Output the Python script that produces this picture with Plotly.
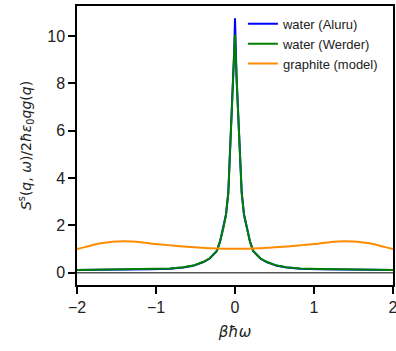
import plotly.graph_objects as go

# x positions (beta hbar omega)
x_water = [-2.0, -1.5, -1.08, -0.825, -0.656, -0.53, -0.40, -0.32, -0.23, -0.19, -0.148, -0.114, -0.085,
           -0.06, -0.04, -0.02, -0.01, 0.0, 0.01, 0.02, 0.04, 0.06, 0.085, 0.114, 0.148, 0.19, 0.23,
           0.32, 0.40, 0.53, 0.656, 0.825, 1.08, 1.5, 2.0]
y_werder = [0.11, 0.13, 0.16, 0.18, 0.23, 0.30, 0.46, 0.61, 0.92, 1.31, 1.87, 2.44, 3.35,
            5.2, 6.7, 8.1, 9.1, 10.05, 9.1, 8.1, 6.7, 5.2, 3.35, 2.44, 1.87, 1.31, 0.92,
            0.61, 0.46, 0.30, 0.23, 0.18, 0.16, 0.13, 0.11]
y_aluru = [0.11, 0.12, 0.15, 0.17, 0.22, 0.29, 0.45, 0.60, 0.92, 1.31, 1.88, 2.46, 3.38,
           5.25, 6.75, 8.2, 9.4, 10.75, 9.4, 8.2, 6.75, 5.25, 3.38, 2.46, 1.88, 1.31, 0.92,
           0.60, 0.45, 0.29, 0.22, 0.17, 0.15, 0.12, 0.11]

x_graphite = [-2.0, -1.9, -1.8, -1.7, -1.6, -1.5, -1.4, -1.3, -1.2, -1.1, -1.0, -0.9, -0.8, -0.7,
              -0.6, -0.5, -0.4, -0.3, -0.2, -0.1, 0.0, 0.1, 0.2, 0.3, 0.4, 0.5, 0.6, 0.7, 0.8,
              0.9, 1.0, 1.1, 1.2, 1.3, 1.4, 1.5, 1.6, 1.7, 1.8, 1.9, 2.0]
y_graphite = [1.00, 1.08, 1.17, 1.24, 1.29, 1.32, 1.33, 1.32, 1.29, 1.25, 1.21, 1.18, 1.15, 1.12,
              1.10, 1.07, 1.05, 1.03, 1.02, 1.01, 1.01, 1.01, 1.02, 1.03, 1.05, 1.07, 1.10, 1.12, 1.15,
              1.18, 1.21, 1.25, 1.29, 1.32, 1.33, 1.32, 1.29, 1.24, 1.17, 1.08, 1.00]

x_ticks = [-2, -1, 0, 1, 2]
y_ticks = [0, 2, 4, 6, 8, 10]

fig = go.Figure()
fig.add_hline(y=0, line=dict(color="#555555", width=1.5), layer="below")
fig.add_trace(go.Scatter(x=x_water, y=y_aluru, mode="lines", name="water (Aluru)",
                         line=dict(color="#0000ff", width=2)))
fig.add_trace(go.Scatter(x=x_water, y=y_werder, mode="lines", name="water (Werder)",
                         line=dict(color="#008000", width=2)))
fig.add_trace(go.Scatter(x=x_graphite, y=y_graphite, mode="lines", name="graphite (model)",
                         line=dict(color="#ff8c00", width=2, shape="spline")))

axis_common = dict(showline=True, linecolor="black", linewidth=1.5, mirror=True,
                   ticks="outside", ticklen=7, tickwidth=1.5, tickcolor="black",
                   showgrid=False, zeroline=False, automargin=False,
                   ticklabeloverflow="allow",
                   tickfont=dict(family="Liberation Sans, Arial", size=16, color="#222"))

fig.update_xaxes(range=[-2, 2], tickvals=x_ticks, **axis_common,
                 title=dict(text="<i>βħω</i>", standoff=12,
                            font=dict(family="DejaVu Sans", size=15, color="#222")))
fig.update_yaxes(range=[-0.52, 11.27], tickvals=y_ticks, **axis_common,
                 title=dict(text="<i>S</i><sup>s</sup>(<i>q</i>, <i>ω</i>)/2<i>ħε</i><sub>0</sub><i>qg</i>(<i>q</i>)",
                            standoff=12,
                            font=dict(family="DejaVu Sans", size=14, color="#222")))

fig.update_layout(
    width=396, height=351,
    margin=dict(l=77, r=3, t=6, b=66),
    plot_bgcolor="white", paper_bgcolor="white",
    showlegend=True,
    legend=dict(x=0.525, y=0.99, xanchor="left", yanchor="top",
                bgcolor="rgba(0,0,0,0)", borderwidth=0,
                font=dict(family="Liberation Sans, Arial", size=13, color="#222"),
                tracegroupgap=0),
)

fig.write_html("out.html",
               config={"displayModeBar": False},
               post_script="document.body.style.margin='0';document.body.style.overflow='hidden';"
                           "document.documentElement.style.overflow='hidden';")
